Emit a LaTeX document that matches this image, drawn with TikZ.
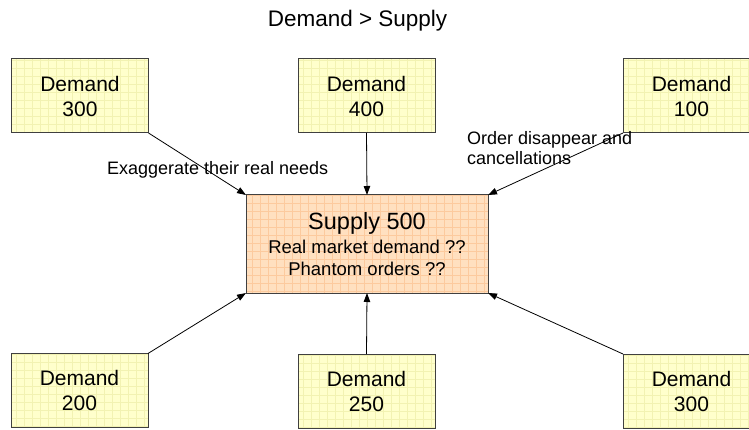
\documentclass[tikz,border=0pt]{standalone}
\usepackage{fontspec}
\setmainfont{Liberation Sans}
\usetikzlibrary{arrows.meta}
\definecolor{demandfill}{RGB}{255,255,204}
\definecolor{demandgrid}{RGB}{242,242,178}
\definecolor{supplyfill}{RGB}{255,224,192}
\definecolor{supplygrid}{RGB}{252,202,158}

\begin{document}
\begin{tikzpicture}[x=1pt,y=-1pt]
	\tikzstyle{every node}+=[inner sep=0pt, outer sep=0pt]
	\tikzstyle{demand}=[draw=black!75, line width=1pt, fill=demandfill, minimum width=137pt, minimum height=74pt, align=center, font=\fontsize{21}{25}\selectfont,
		path picture={\draw[demandgrid, line width=0.4pt, step=8pt] (path picture bounding box.south west) grid (path picture bounding box.north east);}]
	\tikzstyle{supply}=[draw=black!75, line width=1pt, fill=supplyfill, minimum width=242pt, minimum height=98pt, align=center, font=\fontsize{18.5}{22}\selectfont,
		path picture={\draw[supplygrid, line width=0.4pt, step=8pt] (path picture bounding box.south west) grid (path picture bounding box.north east);}]
	\tikzstyle{link}=[-{Triangle[length=9pt,width=6.5pt]}, line width=0.8pt]
	\fill [white] (0,0) rectangle (749,430);
	\useasboundingbox (0,0) rectangle (749,430);
		\node [anchor=base, font=\fontsize{22.5}{27}\selectfont] (title) at (357.5,27) {Demand > Supply};
		\node [demand] (d300a) at (80,96) {Demand\\300};
		\node [demand] (d400) at (366.5,96) {Demand\\400};
		\node [demand] (d100) at (691.5,96) {Demand\\100};
		\node [demand] (d200) at (79.5,390.5) {Demand\\200};
		\node [demand] (d250) at (366.5,391) {Demand\\250};
		\node [demand] (d300b) at (691.5,391) {Demand\\300};
		\node [supply] (supply) at (367,244) {{\fontsize{23.5}{26}\selectfont Supply 500}\\[2pt]
			Real market demand ??\\
			Phantom orders ??};
		\draw [link] (d300a.south east) -- (supply.north west);
		\draw [link] (d400.south) -- (supply.north);
		\draw [link] (d100.south west) -- (supply.north east);
		\draw [link] (d200.north east) -- (supply.south west);
		\draw [link] (d250.north) -- (supply.south);
		\draw [link] (d300b.north west) -- (supply.south east);
		\node [anchor=base west, font=\fontsize{18}{20}\selectfont] (exag) at (107,175) {Exaggerate their real needs};
		\node [anchor=base west, align=left, font=\fontsize{18}{20}\selectfont] (cancel) at (467,165) {Order disappear and\\cancellations};
\end{tikzpicture}
\end{document}
